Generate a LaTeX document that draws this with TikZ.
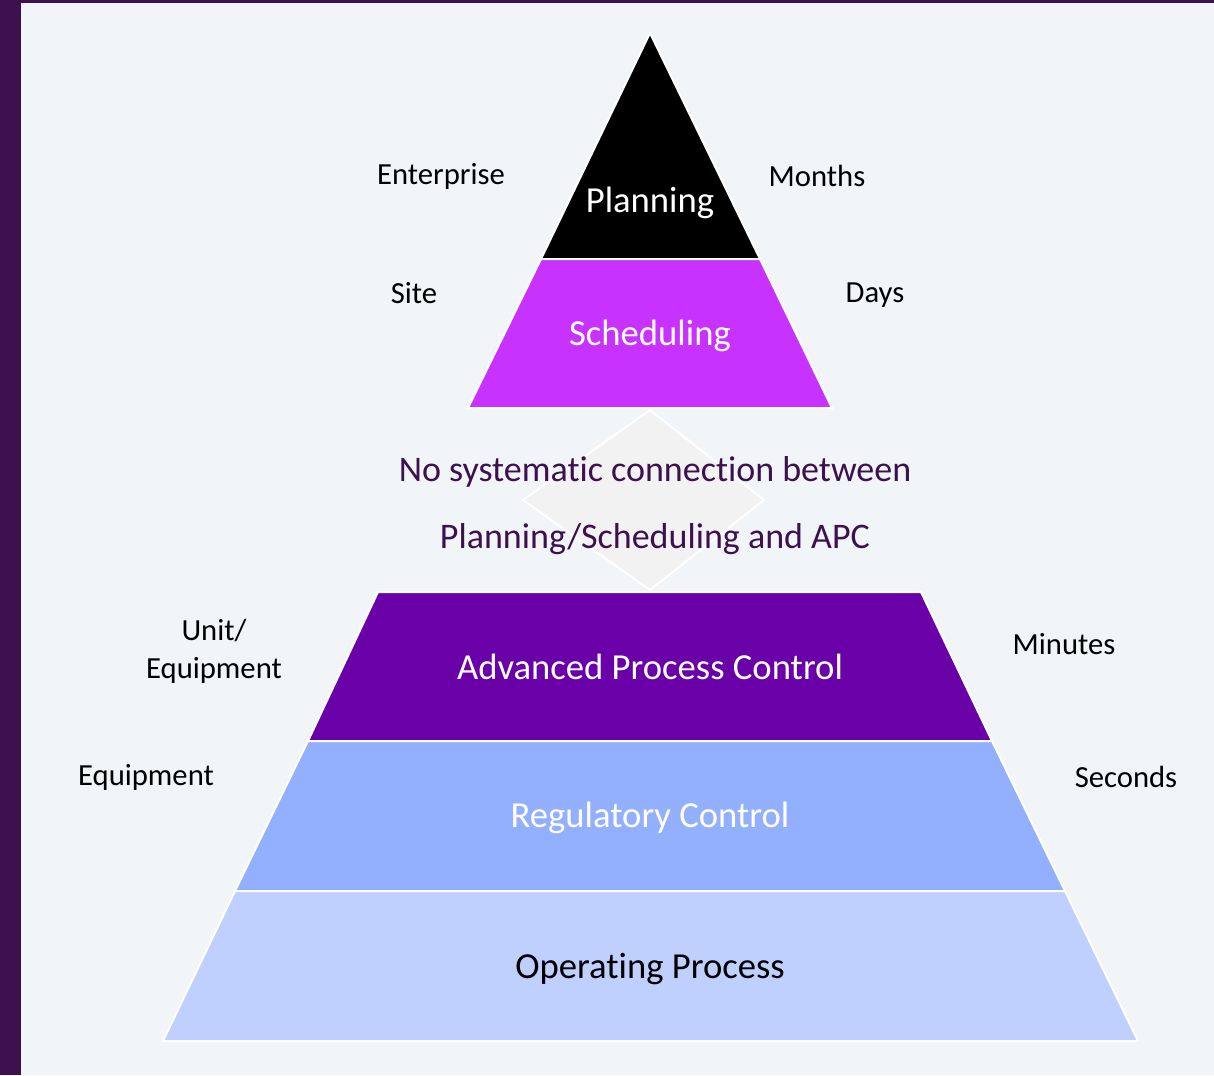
\documentclass[tikz,border=0pt]{standalone}
\usepackage{fontspec}
\setmainfont{Carlito}[Ligatures=NoCommon]
\definecolor{pagebg}{RGB}{241,245,248}
\definecolor{barpurple}{RGB}{61,16,80}
\definecolor{schedcol}{RGB}{200,50,255}
\definecolor{apccol}{RGB}{106,0,168}
\definecolor{regcol}{RGB}{147,176,255}
\definecolor{opcol}{RGB}{191,208,255}
\definecolor{gapcol}{RGB}{242,242,242}
\tikzset{
  layer/.style={draw=white, line width=1.5pt, line join=miter},
  layerlabel/.style={inner sep=0.75pt, font=\fontsize{27.5}{33}\selectfont},
  sidelabel/.style={inner sep=0.75pt, align=center, font=\fontsize{23}{28.5}\selectfont},
  gaplabel/.style={inner sep=0.75pt, text=barpurple, font=\fontsize{27}{33}\selectfont}
}
\begin{document}
\begin{tikzpicture}[x=0.75pt,y=0.75pt,yscale=-1,xscale=1]
        % Background
        \fill [pagebg] (0,0) rectangle (1214,1075);
        \fill [barpurple] (0,0) rectangle (21,1075);
        \fill [barpurple] (0,0) rectangle (1214,3);
        \useasboundingbox (0,0) rectangle (1214,1075);

        % Upper pyramid
        \draw [layer, fill=black] (650,33) -- (760,259) -- (541,259) -- cycle ;
        \draw [layer, fill=schedcol] (541,259) -- (760,259) -- (832,408) -- (468,408) -- cycle ;

        % Gap diamond
        \draw [draw=white, line width=1.5pt, fill=gapcol] (650,410) -- (764,500) -- (650,590) -- (523,500) -- cycle ;

        % Lower pyramid
        \draw [layer, fill=apccol] (378,592) -- (921,592) -- (992,741) -- (308,741) -- cycle ;
        \draw [layer, fill=regcol] (308,741) -- (992,741) -- (1065,891) -- (235,891) -- cycle ;
        \draw [layer, fill=opcol] (235,891) -- (1065,891) -- (1138,1041) -- (163,1041) -- cycle ;

        % Layer labels
        \node (planning) [layerlabel, text=white] at (650,203) {Planning};
        \node (scheduling) [layerlabel, text=white] at (650,336) {Scheduling};
        \node (apc) [layerlabel, text=white] at (650,667) {Advanced Process Control};
        \node (regulatory) [layerlabel, text=white] at (650,818) {Regulatory Control};
        \node (operating) [layerlabel, text=black] at (650,969) {Operating Process};

        % Gap text
        \node (gapone) [gaplabel] at (655,472) {No systematic connection between};
        \node (gaptwo) [gaplabel] at (655,539) {Planning/Scheduling and APC};

        % Side labels
        \node (enterprise) [sidelabel] at (441,176) {Enterprise};
        \node (months) [sidelabel] at (817,176) {Months};
        \node (site) [sidelabel] at (414,293) {Site};
        \node (days) [sidelabel] at (875,295) {Days};
        \node (unit) [sidelabel] at (214,651) {Unit/\\Equipment};
        \node (minutes) [sidelabel] at (1064,644) {Minutes};
        \node (equipment) [sidelabel] at (146,777) {Equipment};
        \node (seconds) [sidelabel] at (1126,777) {Seconds};

    \end{tikzpicture}
\end{document}
